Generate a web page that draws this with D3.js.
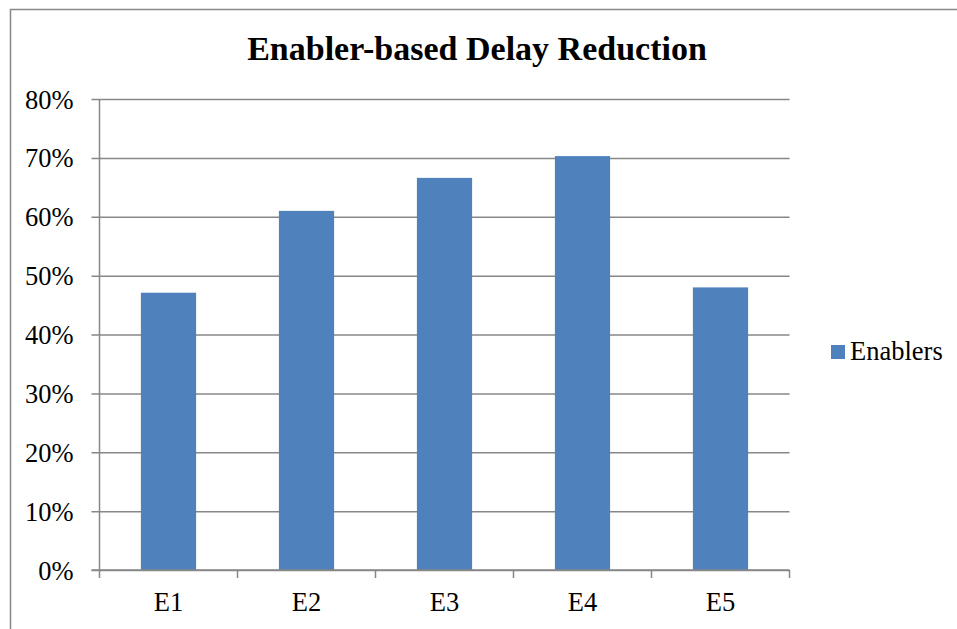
<!DOCTYPE html>
<html>
<head>
<meta charset="utf-8">
<script src="https://cdn.jsdelivr.net/npm/d3@7"></script>
<style>
body { margin: 0; background: #fff; }
svg text { font-family: "Liberation Serif", "Times New Roman", serif; fill: #000; }
</style>
</head>
<body>
<div class="box"></div>
<script>
var categories = ["E1", "E2", "E3", "E4", "E5"];
var values = [0.471, 0.610, 0.666, 0.703, 0.480];
var yTicks = [0, 0.1, 0.2, 0.3, 0.4, 0.5, 0.6, 0.7, 0.8];
var seriesName = "Enablers";
var title = "Enabler-based Delay Reduction";

var width = 957;
var height = 629;
var plotLeft = 99.5, plotRight = 789.5, plotTop = 99, plotBottom = 570;
var barColor = "#4f81bd";
var gridColor = "#878787";

var svg = d3.select(".box").append("svg").attr("width", width).attr("height", height);

// outer chart border (runs off the right and bottom of the picture)
svg.append("rect")
	.attr("x", 10.5).attr("y", 9.5)
	.attr("width", 1000).attr("height", 700)
	.attr("fill", "none").attr("stroke", gridColor).attr("stroke-width", 1.5);

var x = d3.scaleBand().domain(categories).range([plotLeft, plotRight]).paddingInner(0.6).paddingOuter(0.3);
var y = d3.scaleLinear().domain([0, 0.8]).range([plotBottom, plotTop]);

// gridlines + y axis
var yAxis = d3.axisLeft(y).tickValues(yTicks).tickFormat(d3.format(".0%"))
	.tickSize(-(plotRight - plotLeft)).tickPadding(18);
var gy = svg.append("g").attr("transform", "translate(" + plotLeft + ",0)").call(yAxis);
gy.select(".domain").remove();
gy.selectAll(".tick line").attr("stroke", gridColor).attr("stroke-width", 1.5).attr("x1", -8);
gy.selectAll(".tick text").attr("font-size", 26.5).attr("x", -26).attr("dy", "0.34em");

svg.append("line")
	.attr("x1", plotLeft).attr("x2", plotLeft).attr("y1", plotTop).attr("y2", plotBottom)
	.attr("stroke", gridColor).attr("stroke-width", 1.5);

// bars
svg.selectAll("rect.bar").data(values).enter().append("rect")
	.attr("class", "bar")
	.attr("x", function(d, i) { return x(categories[i]); })
	.attr("width", x.bandwidth())
	.attr("y", function(d) { return y(d); })
	.attr("height", function(d) { return y(0) - y(d); })
	.attr("fill", barColor);

// x axis
var step = x.step();
var gx = svg.append("g").attr("transform", "translate(0," + plotBottom + ")")
	.call(d3.axisBottom(x).tickSize(0).tickPadding(22));
gx.select(".domain").remove();
gx.selectAll(".tick text").attr("font-size", 26.5);

svg.append("line")
	.attr("x1", plotLeft - 8).attr("x2", plotRight).attr("y1", plotBottom).attr("y2", plotBottom)
	.attr("stroke", gridColor).attr("stroke-width", 1.5);

var bounds = d3.range(categories.length + 1).map(function(i) { return plotLeft + i * step; });
svg.selectAll("line.xtick").data(bounds).enter().append("line")
	.attr("class", "xtick")
	.attr("x1", function(d) { return d; }).attr("x2", function(d) { return d; })
	.attr("y1", plotBottom).attr("y2", plotBottom + 8)
	.attr("stroke", gridColor).attr("stroke-width", 1.5);

// title
svg.append("text")
	.attr("x", 477).attr("y", 60)
	.attr("text-anchor", "middle")
	.attr("font-size", 34).attr("font-weight", "bold")
	.text(title);

// legend
var legend = svg.append("g").attr("transform", "translate(831,345)");
legend.append("rect").attr("width", 14).attr("height", 14).attr("fill", barColor);
legend.append("text").attr("x", 19).attr("y", 15).attr("font-size", 26.5).text(seriesName);
</script>
</body>
</html>
